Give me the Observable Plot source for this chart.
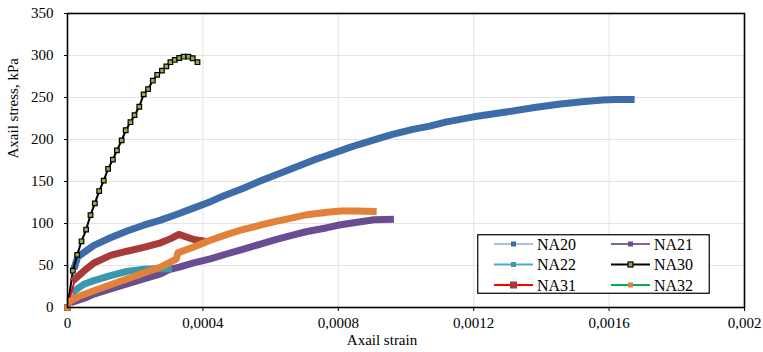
<!DOCTYPE html>
<html>
<head>
<meta charset="utf-8">
<script src="https://cdn.jsdelivr.net/npm/d3@7"></script>
<script src="https://cdn.jsdelivr.net/npm/@observablehq/plot@0.6"></script>
<style>
  html, body { margin: 0; padding: 0; background: #fff; }
  #wrap { position: relative; width: 763px; height: 352px; }
  #legend { position: absolute; left: 477px; top: 234px; }
</style>
</head>
<body>
<div id="wrap"></div>
<script>
// ---- Data ----
const strainTicks = [0, 0.0004, 0.0008, 0.0012, 0.0016, 0.002];
const strainTickLabels = ["0", "0,0004", "0,0008", "0,0012", "0,0016", "0,002"];
const stressTicks = [0, 50, 100, 150, 200, 250, 300, 350];

const seriesNames = ["NA20", "NA21", "NA22", "NA30", "NA31", "NA32"];
const lineColors = ["#a7c0e0", "#8064a2", "#4bacc6", "#000000", "#ff0000", "#00b050"];
const markerColors = ["#3d6ca8", "#6a4c93", "#3a97ae", "#8db04f", "#a83b3a", "#e2823a"];

const na20Strain = [0, 2.2e-5, 3e-5, 5e-5, 7.8e-5, 1.27e-4, 1.76e-4, 2.25e-4, 2.75e-4, 3.24e-4, 3.7e-4, 4.22e-4, 4.62e-4, 5.2e-4, 5.6e-4, 6.3e-4, 6.6e-4, 7.3e-4, 7.6e-4, 8.3e-4, 8.6e-4, 9.25e-4, 9.6e-4, 1.02e-3, 1.07e-3, 1.12e-3, 1.2e-3, 1.3e-3, 1.38e-3, 1.45e-3, 1.52e-3, 1.58e-3, 1.62e-3, 1.665e-3];
const na20Stress = [0, 50, 60, 66, 74, 83, 91, 98, 104, 111, 118, 126, 133, 142, 149, 160, 165, 176, 180, 190, 194, 202, 206, 212, 216, 221, 227, 233, 238, 242, 245, 247, 247.5, 247.5];

const na21Strain = [0, 1.9e-5, 5e-5, 7.8e-5, 1.27e-4, 1.76e-4, 2.25e-4, 2.75e-4, 3e-4, 3.3e-4, 3.73e-4, 4.22e-4, 4.72e-4, 5.2e-4, 5.7e-4, 6.2e-4, 6.68e-4, 7.08e-4, 7.67e-4, 8.07e-4, 8.66e-4, 9.05e-4, 9.54e-4];
const na21Stress = [0, 7, 11, 16, 22, 28, 34, 40, 45, 48, 53, 58, 64, 69.5, 75.5, 81.5, 86.5, 90.5, 95, 98.5, 102, 104.5, 105];

const na22Strain = [0, 2.2e-5, 3.5e-5, 5e-5, 7.8e-5, 1.27e-4, 1.76e-4, 2.25e-4, 2.6e-4, 2.98e-4];
const na22Stress = [0, 20, 24, 28, 32, 38, 43, 45.5, 46, 46];

const na30Strain = [0, 1.57e-5, 2.86e-5, 4.14e-5, 5.5e-5, 6.8e-5, 8.07e-5, 9.36e-5, 1.07e-4, 1.2e-4, 1.34e-4, 1.46e-4, 1.6e-4, 1.72e-4, 1.86e-4, 1.98e-4, 2.12e-4, 2.25e-4, 2.38e-4, 2.52e-4, 2.65e-4, 2.79e-4, 2.92e-4, 3.04e-4, 3.17e-4, 3.3e-4, 3.43e-4, 3.57e-4, 3.7e-4, 3.84e-4];
const na30Stress = [0, 43.8, 62.6, 78.8, 92.8, 110, 124, 138.6, 151, 165, 176, 187, 199, 211, 220.6, 229, 239, 253.7, 260, 270, 277, 282, 287, 292, 294.7, 297, 298.6, 298.6, 296.7, 292];

const na31Strain = [0, 2.2e-5, 5e-5, 7.8e-5, 1.27e-4, 1.76e-4, 2.25e-4, 2.75e-4, 3.05e-4, 3.29e-4, 3.73e-4, 4.03e-4];
const na31Stress = [0, 34, 44, 53, 62, 67, 71.5, 77, 82, 87, 81, 79];

const na32Strain = [0, 1e-5, 3.8e-5, 7.8e-5, 1.27e-4, 1.76e-4, 2.25e-4, 2.75e-4, 3.22e-4, 3.26e-4, 3.73e-4, 4.22e-4, 4.72e-4, 5.11e-4, 5.7e-4, 6.09e-4, 6.68e-4, 7.08e-4, 7.67e-4, 8.07e-4, 8.5e-4, 9.03e-4];
const na32Stress = [0, 8, 14, 20, 27, 34, 41, 48, 58, 65, 72, 80, 87, 92, 98, 102, 107, 110.5, 113.5, 115, 115, 114.5];

const strainArrays = [na20Strain, na21Strain, na22Strain, na30Strain, na31Strain, na32Strain];
const stressArrays = [na20Stress, na21Stress, na22Stress, na30Stress, na31Stress, na32Stress];

// ---- Build table ----
const series = seriesNames.map((name, i) => ({
  name,
  lineColor: lineColors[i],
  markerColor: markerColors[i],
  points: strainArrays[i].map((s, j) => ({ strain: s, stress: stressArrays[i][j] }))
}));

const FONT = "'Liberation Serif', 'Times New Roman', serif";

const marks = [
  Plot.gridX(strainTicks, { stroke: "#e4e4e4", strokeOpacity: 1, strokeWidth: 1 }),
  Plot.gridY(stressTicks, { stroke: "#e4e4e4", strokeOpacity: 1, strokeWidth: 1 }),
  Plot.axisX(strainTicks, {
    tickSize: 4, tickPadding: 6, fontSize: 15, fontFamily: FONT, stroke: "#000", fill: "#000",
    tickFormat: (d) => strainTickLabels[strainTicks.indexOf(d)], label: null
  }),
  Plot.axisY(stressTicks, {
    tickSize: 3, tickPadding: 11, fontSize: 15, fontFamily: FONT, stroke: "#000", fill: "#000", label: null
  })
];

for (const s of series) {
  if (s.name === "NA30") {
    marks.push(Plot.line(s.points, { x: "strain", y: "stress", stroke: s.lineColor, strokeWidth: 2 }));
    marks.push(Plot.dot(s.points, { x: "strain", y: "stress", symbol: "square", r: 2.6, fill: s.markerColor, stroke: "#000", strokeWidth: 1.2 }));
  } else {
    marks.push(Plot.line(s.points, { x: "strain", y: "stress", stroke: s.lineColor, strokeWidth: 1.8 }));
    marks.push(Plot.line(s.points.slice(1), { x: "strain", y: "stress", stroke: s.markerColor, strokeWidth: 7, strokeLinecap: "square", strokeLinejoin: "round" }));
    marks.push(Plot.dot(s.points.slice(0, 1), { x: "strain", y: "stress", symbol: "square", r: 3.6, fill: s.markerColor }));
  }
}

marks.push(Plot.frame({ stroke: "#000", strokeWidth: 1.6 }));
marks.push(Plot.text(["Axail strain"], { frameAnchor: "bottom", dy: 37, dx: -24, fontSize: 15, fontFamily: FONT, fill: "#000" }));
marks.push(Plot.text(["Axail stress, kPa"], { frameAnchor: "left", dx: -54, dy: -2, rotate: -90, fontSize: 15, fontFamily: FONT, fill: "#000" }));

const chart = Plot.plot({
  width: 763,
  height: 352,
  marginLeft: 67,
  marginRight: 19,
  marginTop: 13,
  marginBottom: 45,
  style: { background: "#fff", fontFamily: FONT },
  x: { domain: [0, 0.002] },
  y: { domain: [0, 350] },
  marks
});

const wrap = document.getElementById("wrap");
wrap.appendChild(chart);

// ---- Legend ----
const lw = 233, lh = 60;
const legend = d3.create("svg")
  .attr("id", "legend")
  .attr("width", lw)
  .attr("height", lh)
  .style("position", "absolute")
  .style("left", "477px")
  .style("top", "234px");
legend.append("rect").attr("x", 0.75).attr("y", 0.75).attr("width", lw - 1.5).attr("height", lh - 1.5)
  .attr("fill", "#fff").attr("stroke", "#000").attr("stroke-width", 1.2);
const colX = [17, 134];
const rowY = [10, 30.5, 51];
series.forEach((s, i) => {
  const x0 = colX[i % 2], y0 = rowY[Math.floor(i / 2)];
  const g = legend.append("g");
  g.append("line").attr("x1", x0).attr("x2", x0 + 39).attr("y1", y0).attr("y2", y0)
    .attr("stroke", s.lineColor).attr("stroke-width", 2);
  const ms = s.name === "NA31" ? 7 : 5;
  g.append("rect").attr("x", x0 + 19.5 - ms / 2).attr("y", y0 - ms / 2).attr("width", ms).attr("height", ms)
    .attr("fill", s.markerColor)
    .attr("stroke", s.name === "NA30" ? "#000" : "none").attr("stroke-width", 1.2);
  g.append("text").attr("x", x0 + 43).attr("y", y0).attr("dy", "0.35em")
    .attr("font-family", FONT).attr("font-size", 16).attr("fill", "#000").text(s.name);
});
wrap.appendChild(legend.node());
</script>
</body>
</html>
